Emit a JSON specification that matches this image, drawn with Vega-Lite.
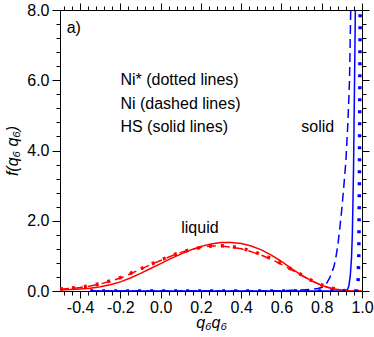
{
  "$schema": "https://vega.github.io/schema/vega-lite/v6.json",
  "width": 302,
  "height": 281,
  "autosize": {"type": "none"},
  "padding": {"left": 60, "top": 10, "right": 12, "bottom": 46},
  "background": "white",
  "config": {
    "view": {"stroke": null},
    "font": "Liberation Sans",
    "axis": {
      "domainColor": "black", "domainWidth": 1, "tickColor": "black", "tickWidth": 1,
      "grid": false, "labelColor": "black", "labelFont": "Liberation Sans", "labelFontSize": 16,
      "labelOverlap": false, "labelFlush": false, "titleColor": "black", "titleFont": "Liberation Sans",
      "titleFontSize": 16, "titleFontStyle": "italic", "titleFontWeight": "normal"
    }
  },
  "datasets": {
    "curves": [
      {"model": "HS", "phase": "liquid", "x": -0.5, "y": 0.03},
      {"model": "HS", "phase": "liquid", "x": -0.45, "y": 0.04},
      {"model": "HS", "phase": "liquid", "x": -0.4, "y": 0.06},
      {"model": "HS", "phase": "liquid", "x": -0.35, "y": 0.08},
      {"model": "HS", "phase": "liquid", "x": -0.3, "y": 0.12},
      {"model": "HS", "phase": "liquid", "x": -0.25, "y": 0.18},
      {"model": "HS", "phase": "liquid", "x": -0.2, "y": 0.26},
      {"model": "HS", "phase": "liquid", "x": -0.15, "y": 0.37},
      {"model": "HS", "phase": "liquid", "x": -0.1, "y": 0.5},
      {"model": "HS", "phase": "liquid", "x": -0.05, "y": 0.64},
      {"model": "HS", "phase": "liquid", "x": 0.0, "y": 0.78},
      {"model": "HS", "phase": "liquid", "x": 0.05, "y": 0.92},
      {"model": "HS", "phase": "liquid", "x": 0.1, "y": 1.05},
      {"model": "HS", "phase": "liquid", "x": 0.15, "y": 1.17},
      {"model": "HS", "phase": "liquid", "x": 0.2, "y": 1.27},
      {"model": "HS", "phase": "liquid", "x": 0.25, "y": 1.34},
      {"model": "HS", "phase": "liquid", "x": 0.3, "y": 1.38},
      {"model": "HS", "phase": "liquid", "x": 0.35, "y": 1.38},
      {"model": "HS", "phase": "liquid", "x": 0.4, "y": 1.35},
      {"model": "HS", "phase": "liquid", "x": 0.45, "y": 1.28},
      {"model": "HS", "phase": "liquid", "x": 0.5, "y": 1.17},
      {"model": "HS", "phase": "liquid", "x": 0.55, "y": 1.02},
      {"model": "HS", "phase": "liquid", "x": 0.6, "y": 0.84},
      {"model": "HS", "phase": "liquid", "x": 0.65, "y": 0.64},
      {"model": "HS", "phase": "liquid", "x": 0.7, "y": 0.45},
      {"model": "HS", "phase": "liquid", "x": 0.75, "y": 0.29},
      {"model": "HS", "phase": "liquid", "x": 0.8, "y": 0.16},
      {"model": "HS", "phase": "liquid", "x": 0.85, "y": 0.07},
      {"model": "HS", "phase": "liquid", "x": 0.9, "y": 0.02},
      {"model": "HS", "phase": "liquid", "x": 0.95, "y": 0.0},
      {"model": "HS", "phase": "liquid", "x": 1.0, "y": 0.0},
      {"model": "Ni", "phase": "liquid", "x": -0.5, "y": 0.05},
      {"model": "Ni", "phase": "liquid", "x": -0.45, "y": 0.07},
      {"model": "Ni", "phase": "liquid", "x": -0.4, "y": 0.1},
      {"model": "Ni", "phase": "liquid", "x": -0.35, "y": 0.14},
      {"model": "Ni", "phase": "liquid", "x": -0.3, "y": 0.2},
      {"model": "Ni", "phase": "liquid", "x": -0.25, "y": 0.28},
      {"model": "Ni", "phase": "liquid", "x": -0.2, "y": 0.37},
      {"model": "Ni", "phase": "liquid", "x": -0.15, "y": 0.49},
      {"model": "Ni", "phase": "liquid", "x": -0.1, "y": 0.62},
      {"model": "Ni", "phase": "liquid", "x": -0.05, "y": 0.75},
      {"model": "Ni", "phase": "liquid", "x": 0.0, "y": 0.87},
      {"model": "Ni", "phase": "liquid", "x": 0.05, "y": 0.99},
      {"model": "Ni", "phase": "liquid", "x": 0.1, "y": 1.1},
      {"model": "Ni", "phase": "liquid", "x": 0.15, "y": 1.18},
      {"model": "Ni", "phase": "liquid", "x": 0.2, "y": 1.24},
      {"model": "Ni", "phase": "liquid", "x": 0.25, "y": 1.28},
      {"model": "Ni", "phase": "liquid", "x": 0.3, "y": 1.28},
      {"model": "Ni", "phase": "liquid", "x": 0.35, "y": 1.25},
      {"model": "Ni", "phase": "liquid", "x": 0.4, "y": 1.2},
      {"model": "Ni", "phase": "liquid", "x": 0.45, "y": 1.12},
      {"model": "Ni", "phase": "liquid", "x": 0.5, "y": 1.02},
      {"model": "Ni", "phase": "liquid", "x": 0.55, "y": 0.9},
      {"model": "Ni", "phase": "liquid", "x": 0.6, "y": 0.76},
      {"model": "Ni", "phase": "liquid", "x": 0.65, "y": 0.6},
      {"model": "Ni", "phase": "liquid", "x": 0.7, "y": 0.44},
      {"model": "Ni", "phase": "liquid", "x": 0.75, "y": 0.29},
      {"model": "Ni", "phase": "liquid", "x": 0.8, "y": 0.16},
      {"model": "Ni", "phase": "liquid", "x": 0.85, "y": 0.07},
      {"model": "Ni", "phase": "liquid", "x": 0.9, "y": 0.02},
      {"model": "Ni", "phase": "liquid", "x": 0.95, "y": 0.0},
      {"model": "Ni", "phase": "liquid", "x": 1.0, "y": 0.0},
      {"model": "Ni*", "phase": "liquid", "x": -0.5, "y": 0.06},
      {"model": "Ni*", "phase": "liquid", "x": -0.45, "y": 0.08},
      {"model": "Ni*", "phase": "liquid", "x": -0.4, "y": 0.11},
      {"model": "Ni*", "phase": "liquid", "x": -0.35, "y": 0.15},
      {"model": "Ni*", "phase": "liquid", "x": -0.3, "y": 0.21},
      {"model": "Ni*", "phase": "liquid", "x": -0.25, "y": 0.29},
      {"model": "Ni*", "phase": "liquid", "x": -0.2, "y": 0.38},
      {"model": "Ni*", "phase": "liquid", "x": -0.15, "y": 0.5},
      {"model": "Ni*", "phase": "liquid", "x": -0.1, "y": 0.63},
      {"model": "Ni*", "phase": "liquid", "x": -0.05, "y": 0.76},
      {"model": "Ni*", "phase": "liquid", "x": 0.0, "y": 0.88},
      {"model": "Ni*", "phase": "liquid", "x": 0.05, "y": 1.0},
      {"model": "Ni*", "phase": "liquid", "x": 0.1, "y": 1.1},
      {"model": "Ni*", "phase": "liquid", "x": 0.15, "y": 1.18},
      {"model": "Ni*", "phase": "liquid", "x": 0.2, "y": 1.24},
      {"model": "Ni*", "phase": "liquid", "x": 0.25, "y": 1.28},
      {"model": "Ni*", "phase": "liquid", "x": 0.3, "y": 1.29},
      {"model": "Ni*", "phase": "liquid", "x": 0.35, "y": 1.27},
      {"model": "Ni*", "phase": "liquid", "x": 0.4, "y": 1.22},
      {"model": "Ni*", "phase": "liquid", "x": 0.45, "y": 1.14},
      {"model": "Ni*", "phase": "liquid", "x": 0.5, "y": 1.04},
      {"model": "Ni*", "phase": "liquid", "x": 0.55, "y": 0.92},
      {"model": "Ni*", "phase": "liquid", "x": 0.6, "y": 0.78},
      {"model": "Ni*", "phase": "liquid", "x": 0.65, "y": 0.62},
      {"model": "Ni*", "phase": "liquid", "x": 0.7, "y": 0.46},
      {"model": "Ni*", "phase": "liquid", "x": 0.75, "y": 0.3},
      {"model": "Ni*", "phase": "liquid", "x": 0.8, "y": 0.17},
      {"model": "Ni*", "phase": "liquid", "x": 0.85, "y": 0.08},
      {"model": "Ni*", "phase": "liquid", "x": 0.9, "y": 0.02},
      {"model": "Ni*", "phase": "liquid", "x": 0.95, "y": 0.0},
      {"model": "Ni*", "phase": "liquid", "x": 1.0, "y": 0.0},
      {"model": "Ni", "phase": "solid", "x": -0.35, "y": 0.0},
      {"model": "Ni", "phase": "solid", "x": 0.5, "y": 0.0},
      {"model": "Ni", "phase": "solid", "x": 0.6, "y": 0.01},
      {"model": "Ni", "phase": "solid", "x": 0.65, "y": 0.02},
      {"model": "Ni", "phase": "solid", "x": 0.7, "y": 0.03},
      {"model": "Ni", "phase": "solid", "x": 0.75, "y": 0.05},
      {"model": "Ni", "phase": "solid", "x": 0.78, "y": 0.07},
      {"model": "Ni", "phase": "solid", "x": 0.8, "y": 0.1},
      {"model": "Ni", "phase": "solid", "x": 0.82, "y": 0.18},
      {"model": "Ni", "phase": "solid", "x": 0.84, "y": 0.38},
      {"model": "Ni", "phase": "solid", "x": 0.86, "y": 0.68},
      {"model": "Ni", "phase": "solid", "x": 0.87, "y": 0.95},
      {"model": "Ni", "phase": "solid", "x": 0.88, "y": 1.3},
      {"model": "Ni", "phase": "solid", "x": 0.89, "y": 1.8},
      {"model": "Ni", "phase": "solid", "x": 0.9, "y": 2.35},
      {"model": "Ni", "phase": "solid", "x": 0.91, "y": 3.0},
      {"model": "Ni", "phase": "solid", "x": 0.92, "y": 3.7},
      {"model": "Ni", "phase": "solid", "x": 0.93, "y": 4.8},
      {"model": "Ni", "phase": "solid", "x": 0.938, "y": 6.0},
      {"model": "Ni", "phase": "solid", "x": 0.944, "y": 8.0},
      {"model": "HS", "phase": "solid", "x": -0.35, "y": 0.0},
      {"model": "HS", "phase": "solid", "x": 0.5, "y": 0.0},
      {"model": "HS", "phase": "solid", "x": 0.9, "y": 0.0},
      {"model": "HS", "phase": "solid", "x": 0.925, "y": 0.0},
      {"model": "HS", "phase": "solid", "x": 0.935, "y": 0.15},
      {"model": "HS", "phase": "solid", "x": 0.942, "y": 0.45},
      {"model": "HS", "phase": "solid", "x": 0.948, "y": 0.95},
      {"model": "HS", "phase": "solid", "x": 0.952, "y": 1.6},
      {"model": "HS", "phase": "solid", "x": 0.955, "y": 2.5},
      {"model": "HS", "phase": "solid", "x": 0.958, "y": 3.5},
      {"model": "HS", "phase": "solid", "x": 0.961, "y": 5.0},
      {"model": "HS", "phase": "solid", "x": 0.964, "y": 6.5},
      {"model": "HS", "phase": "solid", "x": 0.967, "y": 8.0},
      {"model": "Ni*", "phase": "solid", "x": -0.35, "y": 0.0},
      {"model": "Ni*", "phase": "solid", "x": 0.5, "y": 0.0},
      {"model": "Ni*", "phase": "solid", "x": 0.97, "y": 0.0},
      {"model": "Ni*", "phase": "solid", "x": 0.98, "y": 0.15},
      {"model": "Ni*", "phase": "solid", "x": 0.984, "y": 1.0},
      {"model": "Ni*", "phase": "solid", "x": 0.987, "y": 3.0},
      {"model": "Ni*", "phase": "solid", "x": 0.989, "y": 5.5},
      {"model": "Ni*", "phase": "solid", "x": 0.991, "y": 8.0}
    ],
    "notesLeft": [
      {"label": "a)", "x": -0.467, "y": 7.5},
      {"label": "Ni* (dotted lines)", "x": -0.2, "y": 6.0},
      {"label": "Ni (dashed lines)", "x": -0.2, "y": 5.32},
      {"label": "HS (solid lines)", "x": -0.2, "y": 4.66}
    ],
    "notesCenter": [
      {"label": "liquid", "x": 0.195, "y": 1.79},
      {"label": "solid", "x": 0.78, "y": 4.68}
    ]
  },
  "resolve": {"axis": {"x": "independent", "y": "independent"}},
  "layer": [
    {
      "data": {"name": "curves"},
      "transform": [{"filter": "datum.model === 'HS'"}],
      "mark": {"type": "line", "strokeWidth": 1.5, "clip": true},
      "encoding": {
        "x": {"field": "x", "type": "quantitative",
          "scale": {"domain": [-0.5, 1.0], "nice": false, "zero": false},
          "axis": {"orient": "bottom", "title": "q₆q₆", "titleY": 36, "titleBaseline": "alphabetic",
            "values": [-0.48,-0.44,-0.4,-0.36,-0.32,-0.28,-0.24,-0.2,-0.16,-0.12,-0.08,-0.04,0,0.04,0.08,0.12,0.16,0.2,0.24,0.28,0.32,0.36,0.4,0.44,0.48,0.52,0.56,0.6,0.64,0.68,0.72,0.76,0.8,0.84,0.88,0.92,0.96,1.0],
            "labelExpr": "abs(datum.value*5-round(datum.value*5))<0.001 ? replace(format(datum.value,'.1f'),'\u2212','-') : ''",
            "tickSize": {"condition": {"test": "abs(datum.value*5-round(datum.value*5))<0.001", "value": 7}, "value": 4},
            "labelPadding": 1}},
        "y": {"field": "y", "type": "quantitative",
          "scale": {"domain": [0, 8], "nice": false, "zero": false},
          "axis": {"orient": "left", "title": "f(q₆ q₆)", "titleX": -43, "titleBaseline": "alphabetic",
            "values": [0,0.4,0.8,1.2,1.6,2,2.4,2.8,3.2,3.6,4,4.4,4.8,5.2,5.6,6,6.4,6.8,7.2,7.6,8],
            "labelExpr": "abs(datum.value/2-round(datum.value/2))<0.001 ? format(datum.value,'.1f') : ''",
            "tickSize": {"condition": {"test": "abs(datum.value/2-round(datum.value/2))<0.001", "value": 8}, "value": 4},
            "labelPadding": 3}},
        "color": {"field": "phase", "type": "nominal", "scale": {"domain": ["liquid", "solid"], "range": ["#ff0000", "#0000ff"]}, "legend": null}
      }
    },
    {
      "data": {"name": "curves"},
      "transform": [{"filter": "datum.model === 'Ni'"}],
      "mark": {"type": "line", "strokeWidth": 1.5, "strokeDash": [9, 5], "clip": true},
      "encoding": {
        "x": {"field": "x", "type": "quantitative", "axis": null},
        "y": {"field": "y", "type": "quantitative", "axis": null},
        "color": {"field": "phase", "type": "nominal", "legend": null}
      }
    },
    {
      "data": {"name": "curves"},
      "transform": [{"filter": "datum.model === 'Ni*'"}],
      "mark": {"type": "line", "strokeWidth": 3.5, "strokeDash": [3, 9], "strokeCap": "butt", "clip": true},
      "encoding": {
        "x": {"field": "x", "type": "quantitative", "axis": null},
        "y": {"field": "y", "type": "quantitative", "axis": null},
        "color": {"field": "phase", "type": "nominal", "legend": null}
      }
    },
    {
      "data": {"name": "notesLeft"},
      "mark": {"type": "text", "align": "left", "baseline": "middle", "fontSize": 16, "font": "Liberation Sans", "color": "black"},
      "encoding": {
        "x": {"field": "x", "type": "quantitative",
          "axis": {"orient": "top", "title": null, "labels": false,
            "values": [-0.48,-0.44,-0.4,-0.36,-0.32,-0.28,-0.24,-0.2,-0.16,-0.12,-0.08,-0.04,0,0.04,0.08,0.12,0.16,0.2,0.24,0.28,0.32,0.36,0.4,0.44,0.48,0.52,0.56,0.6,0.64,0.68,0.72,0.76,0.8,0.84,0.88,0.92,0.96,1.0],
            "tickSize": {"condition": {"test": "abs(datum.value*5-round(datum.value*5))<0.001", "value": 7}, "value": 4}}},
        "y": {"field": "y", "type": "quantitative",
          "axis": {"orient": "right", "title": null, "labels": false,
            "values": [0,0.4,0.8,1.2,1.6,2,2.4,2.8,3.2,3.6,4,4.4,4.8,5.2,5.6,6,6.4,6.8,7.2,7.6,8],
            "tickSize": {"condition": {"test": "abs(datum.value/2-round(datum.value/2))<0.001", "value": 7}, "value": 4}}},
        "text": {"field": "label"}
      }
    },
    {
      "data": {"name": "notesCenter"},
      "mark": {"type": "text", "align": "center", "baseline": "middle", "fontSize": 16, "font": "Liberation Sans", "color": "black"},
      "encoding": {
        "x": {"field": "x", "type": "quantitative", "axis": null},
        "y": {"field": "y", "type": "quantitative", "axis": null},
        "text": {"field": "label"}
      }
    }
  ]
}
